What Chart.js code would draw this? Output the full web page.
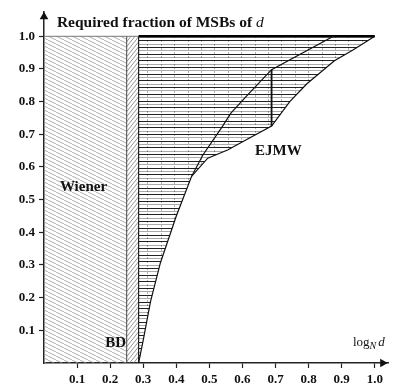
<!DOCTYPE html>
<html>
<head>
<meta charset="utf-8">
<script src="https://cdn.jsdelivr.net/npm/chart.js@4.4.1/dist/chart.umd.min.js"></script>
<style>
  html, body { margin: 0; padding: 0; background: #fff; }
  #wrap { width: 393px; height: 390px; position: relative; }
</style>
</head>
<body>
<div id="wrap"><canvas id="c"></canvas></div>
<script>
// ---- data ----
const xTicks      = [0.1, 0.2, 0.3, 0.4, 0.5, 0.6, 0.7, 0.8, 0.9, 1.0];
const xTickLabels = ["0.1", "0.2", "0.3", "0.4", "0.5", "0.6", "0.7", "0.8", "0.9", "1.0"];
const yTicks      = [0.1, 0.2, 0.3, 0.4, 0.5, 0.6, 0.7, 0.8, 0.9, 1.0];
const yTickLabels = ["0.1", "0.2", "0.3", "0.4", "0.5", "0.6", "0.7", "0.8", "0.9", "1.0"];

// Wiener bound (d < N^0.25) and Boneh-Durfee bound
const wienerX = [0, 0.25];
const wienerY = [1, 1];
const bdX     = [0.25, 0.286];
const bdY     = [1, 1];

// EJMW region: top edge and lower/right boundary
const ejmwTopX = [0.286, 1.0];
const ejmwTopY = [1, 1];
const boundaryX = [0.286, 0.300, 0.322, 0.352, 0.400, 0.446, 0.495, 0.555, 0.606, 0.688, 0.743, 0.794, 0.878, 0.934, 1.0];
const boundaryY = [0,     0.070, 0.188, 0.307, 0.450, 0.571, 0.627, 0.652, 0.680, 0.725, 0.800, 0.854, 0.925, 0.958, 1.0];

// inner curve and the vertical split
const upperX = [0.446, 0.480, 0.540, 0.565, 0.615, 0.688, 0.875];
const upperY = [0.571, 0.636, 0.725, 0.765, 0.820, 0.898, 1.0];
const splitX = [0.688, 0.688];
const splitY = [0.725, 0.898];

// region labels
const regionNames = ["Wiener", "BD", "EJMW"];
const regionX     = [0.048, 0.248, 0.638];
const regionY     = [0.525, 0.048, 0.636];

const pts = (xs, ys) => xs.map((x, i) => ({ x, y: ys[i] }));

// ---- hatch patterns ----
const ctx = document.getElementById("c").getContext("2d");
function hatch(w, h, draw) {
  const t = document.createElement("canvas");
  t.width = w; t.height = h;
  draw(t.getContext("2d"), w, h);
  return ctx.createPattern(t, "repeat");
}
const wienerPat = hatch(8, 4, (g, w, h) => {
  g.strokeStyle = "#9a9a9a"; g.lineWidth = 0.8;
  for (const dx of [-w, 0, w]) { g.beginPath(); g.moveTo(dx, 0); g.lineTo(dx + w, h); g.stroke(); }
});
const bdPat = hatch(4, 5, (g, w, h) => {
  g.strokeStyle = "#777"; g.lineWidth = 0.8;
  for (const dx of [-w, 0, w]) { g.beginPath(); g.moveTo(dx, h); g.lineTo(dx + w, 0); g.stroke(); }
});
const ejmwPat = hatch(67, 67, (g, w, h) => {
  g.fillStyle = "#fff"; g.fillRect(0, 0, w, h);
  for (let i = 0; i < 20; i++) {
    const y = Math.round(i * 3.35) + 0.5;
    g.strokeStyle = i % 2 ? "#aaa" : "#222";
    g.lineWidth = 1;
    g.beginPath(); g.moveTo(0, y); g.lineTo(w, y); g.stroke();
  }
  g.strokeStyle = "rgba(0,0,0,0.3)"; g.lineWidth = 1; g.setLineDash([2, 2]);
  for (let j = 0; j < 5; j++) {
    const x = Math.round(j * 13.4) + 0.5;
    g.beginPath(); g.moveTo(x, 0); g.lineTo(x, h); g.stroke();
  }
});

const serif = "'Liberation Serif', 'Times New Roman', serif";

// text drawn at data coordinates
const textPlugin = {
  id: "texts",
  afterDatasetsDraw(chart) {
    const { ctx: c, scales: { x, y } } = chart;
    c.save();
    c.fillStyle = "#111";
    c.textBaseline = "alphabetic";
    c.font = "bold 15px " + serif;
    regionNames.forEach((name, i) => {
      c.textAlign = name === "BD" ? "right" : "left";
      c.fillText(name, x.getPixelForValue(regionX[i]), y.getPixelForValue(regionY[i]));
    });
    // title
    c.textAlign = "left";
    let px = x.getPixelForValue(0.039), py = y.getPixelForValue(1.03);
    c.font = "bold 15.5px " + serif;
    const t = "Required fraction of MSBs of ";
    c.fillText(t, px, py);
    px += c.measureText(t).width;
    c.font = "italic 15.5px " + serif;
    c.fillText("d", px, py);
    // x-axis name
    px = x.getPixelForValue(0.934); py = y.getPixelForValue(0.051);
    c.font = "13px " + serif;
    c.fillText("log", px, py);
    px += c.measureText("log").width;
    c.font = "italic 10px " + serif;
    c.fillText("N", px, py + 3);
    px += c.measureText("N").width + 2;
    c.font = "italic 13px " + serif;
    c.fillText("d", px, py);
    c.restore();
  }
};

// lower "order" is drawn on top
const line = (data, extra) => Object.assign({
  data, pointRadius: 0, fill: false, borderColor: "#111", borderWidth: 1.2, tension: 0, order: 0
}, extra);

new Chart(ctx, {
  type: "line",
  data: {
    datasets: [
      line(pts(wienerX, wienerY), { fill: "origin", backgroundColor: wienerPat, borderColor: "#777", borderWidth: 1, order: 10 }),
      line(pts(bdX, bdY), { fill: "origin", backgroundColor: bdPat, borderColor: "#777", borderWidth: 1, order: 10 }),
      line(pts(ejmwTopX, ejmwTopY), { fill: "+1", backgroundColor: ejmwPat, borderColor: "#000", borderWidth: 2.4, order: 9 }),
      line(pts(boundaryX, boundaryY)),
      line(pts(upperX, upperY)),
      line(pts(splitX, splitY), { borderWidth: 1.8 }),
      line(pts([0.25, 0.25], [0, 1]), { borderColor: "#444", borderWidth: 1 }),
      line(pts([0.286, 0.286], [0, 1]), { borderColor: "#222", borderWidth: 1.2 }),
      {
        data: [{ x: 0, y: 1.06 }, { x: 1.024, y: 0 }],
        showLine: false, clip: false, order: 0,
        pointStyle: "triangle", pointRotation: [0, 90], pointRadius: 5,
        pointBackgroundColor: "#111", pointBorderColor: "#111", pointBorderWidth: 0
      }
    ]
  },
  options: {
    responsive: true,
    maintainAspectRatio: false,
    animation: false,
    events: [],
    layout: { padding: { left: 0, right: 1, top: 3, bottom: 0 } },
    plugins: { legend: { display: false }, tooltip: { enabled: false } },
    scales: {
      x: {
        type: "linear", min: 0, max: 1.04,
        afterFit: s => { s.height = 27; },
        afterBuildTicks: s => { s.ticks = xTicks.map(v => ({ value: v })); },
        grid: { drawOnChartArea: false, drawTicks: true, tickLength: 5, color: "#222", tickWidth: 1.2 },
        border: { color: "#222", width: 1.5 },
        ticks: {
          padding: 4, color: "#111", maxRotation: 0, autoSkip: false,
          font: { family: serif, weight: "bold", size: 13 },
          callback: v => xTickLabels[xTicks.findIndex(t => Math.abs(t - v) < 1e-6)] ?? ""
        }
      },
      y: {
        type: "linear", min: 0, max: 1.075,
        afterFit: s => { s.width = 44; },
        afterBuildTicks: s => { s.ticks = yTicks.map(v => ({ value: v })); },
        grid: { drawOnChartArea: false, drawTicks: true, tickLength: 5, color: "#222", tickWidth: 1.2 },
        border: { color: "#222", width: 1.5 },
        ticks: {
          padding: 4, color: "#111", autoSkip: false,
          font: { family: serif, weight: "bold", size: 13 },
          callback: v => yTickLabels[yTicks.findIndex(t => Math.abs(t - v) < 1e-6)] ?? ""
        }
      }
    }
  },
  plugins: [textPlugin]
});
</script>
</body>
</html>
